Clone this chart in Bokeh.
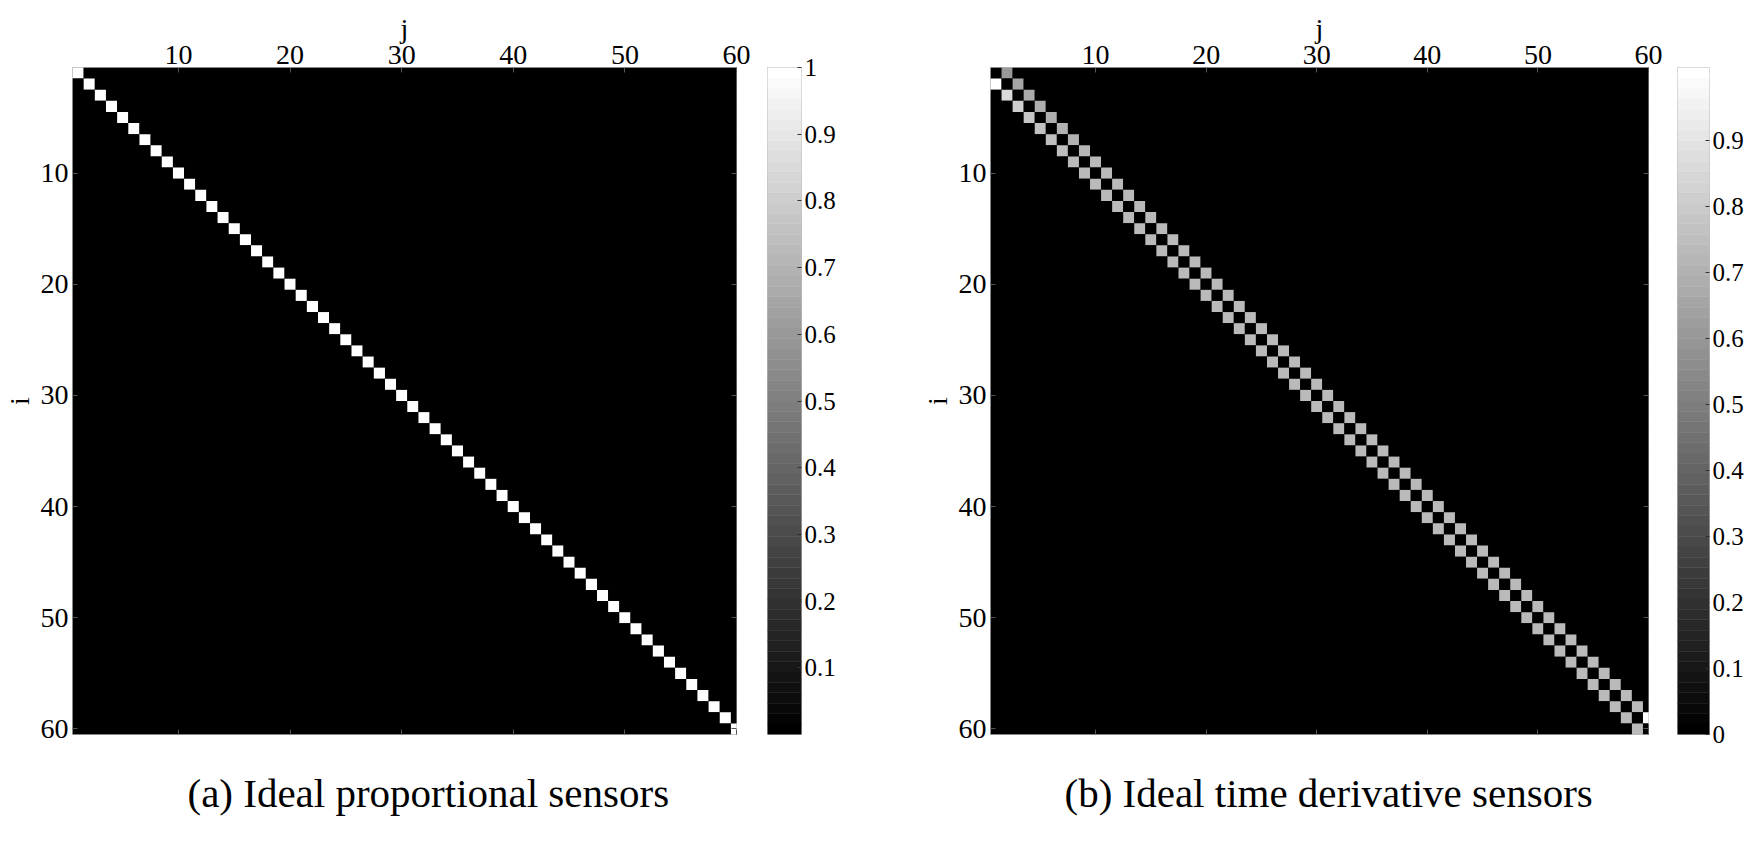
import numpy as np
from bokeh.plotting import figure
from bokeh.models import (ColumnDataSource, LinearColorMapper, FixedTicker, LinearAxis,
                          Range1d, Title, CustomJSTickFormatter)
from bokeh.layouts import row
from bokeh.palettes import gray
from bokeh.embed import file_html
from bokeh.resources import INLINE

# ---------------- data ----------------
N_SENSORS = 60
axis_ticks = [10, 20, 30, 40, 50, 60]
cbar_ticks_a = [0.1, 0.2, 0.3, 0.4, 0.5, 0.6, 0.7, 0.8, 0.9, 1.0]
cbar_ticks_b = [0.0, 0.1, 0.2, 0.3, 0.4, 0.5, 0.6, 0.7, 0.8, 0.9]
cbar_range_a = (0.0, 1.0)
cbar_range_b = (0.0, 1.01)
caption_a = "(a) Ideal proportional sensors"
caption_b = "(b) Ideal time derivative sensors"

# (a) diagonal entries (i, i)
prop_diag = [1.0, 1.0, 1.0, 1.0, 1.0, 1.0, 1.0, 1.0, 1.0, 1.0,
             1.0, 1.0, 1.0, 1.0, 1.0, 1.0, 1.0, 1.0, 1.0, 1.0,
             1.0, 1.0, 1.0, 1.0, 1.0, 1.0, 1.0, 1.0, 1.0, 1.0,
             1.0, 1.0, 1.0, 1.0, 1.0, 1.0, 1.0, 1.0, 1.0, 1.0,
             1.0, 1.0, 1.0, 1.0, 1.0, 1.0, 1.0, 1.0, 1.0, 1.0,
             1.0, 1.0, 1.0, 1.0, 1.0, 1.0, 1.0, 1.0, 1.0, 1.0]

# (b) diagonal entries (i, i)
deriv_diag = [0.0, 0.0, 0.0, 0.0, 0.0, 0.0, 0.0, 0.0, 0.0, 0.0,
              0.0, 0.0, 0.0, 0.0, 0.0, 0.0, 0.0, 0.0, 0.0, 0.0,
              0.0, 0.0, 0.0, 0.0, 0.0, 0.0, 0.0, 0.0, 0.0, 0.0,
              0.0, 0.0, 0.0, 0.0, 0.0, 0.0, 0.0, 0.0, 0.0, 0.0,
              0.0, 0.0, 0.0, 0.0, 0.0, 0.0, 0.0, 0.0, 0.0, 0.0,
              0.0, 0.0, 0.0, 0.0, 0.0, 0.0, 0.0, 0.0, 0.0, 0.0]
# (b) upper neighbour entries (i, i+1), i = 1..59
deriv_upper = [0.60, 0.66, 0.67, 0.68, 0.69, 0.70, 0.71, 0.72, 0.73, 0.73,
               0.74, 0.74, 0.74, 0.74, 0.74, 0.74, 0.74, 0.74, 0.74, 0.74,
               0.74, 0.74, 0.74, 0.74, 0.74, 0.74, 0.74, 0.74, 0.74, 0.74,
               0.74, 0.74, 0.74, 0.74, 0.74, 0.74, 0.74, 0.74, 0.74, 0.74,
               0.74, 0.74, 0.74, 0.74, 0.74, 0.74, 0.74, 0.74, 0.74, 0.74,
               0.74, 0.74, 0.74, 0.74, 0.74, 0.74, 0.74, 0.74, 1.00]
# (b) lower neighbour entries (i+1, i), i = 1..59
deriv_lower = [1.00, 0.86, 0.81, 0.78, 0.76, 0.75, 0.75, 0.74, 0.74, 0.74,
               0.74, 0.74, 0.74, 0.74, 0.74, 0.74, 0.74, 0.74, 0.74, 0.74,
               0.74, 0.74, 0.74, 0.74, 0.74, 0.74, 0.74, 0.74, 0.74, 0.74,
               0.74, 0.74, 0.74, 0.74, 0.74, 0.74, 0.74, 0.74, 0.74, 0.74,
               0.74, 0.74, 0.74, 0.74, 0.74, 0.74, 0.74, 0.74, 0.74, 0.74,
               0.74, 0.74, 0.74, 0.74, 0.74, 0.74, 0.74, 0.74, 0.74]

FONT = "Liberation Serif"
PALETTE = gray(64)
TOP, FRAME_H, BOTTOM = 67, 667, 93
BLANK = CustomJSTickFormatter(code="return '';")


def matrix_source(diag, upper=None, lower=None):
    n = len(diag)
    m = np.zeros((n, n))
    m[np.arange(n), np.arange(n)] = diag
    if upper is not None:
        m[np.arange(n - 1), np.arange(1, n)] = upper
    if lower is not None:
        m[np.arange(1, n), np.arange(n - 1)] = lower
    ii, jj = np.meshgrid(np.arange(1, n + 1), np.arange(1, n + 1), indexing="ij")
    return ColumnDataSource(dict(i=ii.ravel(), j=jj.ravel(), v=m.ravel()))


def style_ticks(ax):
    ax.major_tick_in = 5
    ax.major_tick_out = 0
    ax.major_tick_line_color = "#555555"
    ax.minor_tick_line_color = None
    ax.axis_line_color = None


def heat_panel(src, crange, caption, frame_w, left, right, cap_offset):
    n = N_SENSORS
    p = figure(frame_width=frame_w, frame_height=FRAME_H,
               x_range=Range1d(0.5, n), y_range=Range1d(n + 0.5, 0.5),
               x_axis_location="above", output_backend="svg", toolbar_location=None,
               min_border_left=left, min_border_right=right,
               min_border_top=TOP, min_border_bottom=BOTTOM,
               background_fill_color="black", border_fill_color="white")
    mapper = LinearColorMapper(palette=PALETTE, low=crange[0], high=crange[1])
    p.rect(x="j", y="i", width=1, height=1, source=src,
           fill_color={"field": "v", "transform": mapper}, line_color=None)
    p.grid.visible = False
    p.outline_line_color = "#b4b4b4"
    for ax in (p.xaxis[0], p.yaxis[0]):
        ax.ticker = FixedTicker(ticks=axis_ticks)
        ax.major_label_text_font = FONT
        ax.major_label_text_font_size = "28px"
        ax.major_label_text_color = "black"
        ax.axis_label_text_font = FONT
        ax.axis_label_text_font_size = "28px"
        ax.axis_label_text_font_style = "normal"
        ax.axis_label_text_color = "black"
        style_ticks(ax)
    p.xaxis.axis_label = "j"
    p.yaxis.axis_label = "i"
    p.xaxis.major_label_standoff = 4
    p.xaxis.axis_label_standoff = -1
    p.yaxis.major_label_standoff = 4
    p.yaxis.axis_label_standoff = 3

    # mirrored tick marks on the bottom and right edges (no labels)
    bax = LinearAxis(ticker=FixedTicker(ticks=axis_ticks), formatter=BLANK,
                     major_label_text_font_size="1px", major_label_standoff=0,
                     axis_label=" ", axis_label_text_font_size="26px",
                     axis_label_standoff=0)
    style_ticks(bax)
    p.add_layout(bax, "below")
    rax = LinearAxis(ticker=FixedTicker(ticks=axis_ticks), formatter=BLANK,
                     major_label_text_font_size="1px", major_label_standoff=0)
    style_ticks(rax)
    p.add_layout(rax, "right")

    p.add_layout(Title(text=caption, text_font=FONT, text_font_size="41px",
                       text_font_style="normal", text_color="black",
                       align="left", offset=cap_offset, standoff=0), "below")
    return p


def cbar_panel(crange, cticks, frame_w, right):
    low, high = crange
    p = figure(frame_width=frame_w, frame_height=FRAME_H,
               x_range=Range1d(0, 1), y_range=Range1d(low, high),
               x_axis_location=None, y_axis_location="right",
               output_backend="svg", toolbar_location=None,
               min_border_left=0, min_border_right=right,
               min_border_top=TOP, min_border_bottom=BOTTOM,
               background_fill_color="white", border_fill_color="white")
    edges = np.linspace(low, high, len(PALETTE) + 1)
    p.quad(left=0, right=1, bottom=edges[:-1], top=edges[1:],
           fill_color=PALETTE, line_color=PALETTE, line_width=0.5)
    p.grid.visible = False
    p.outline_line_color = "#c0c0c0"
    ax = p.yaxis[0]
    ax.ticker = FixedTicker(ticks=cticks)
    ax.formatter = CustomJSTickFormatter(code=r"return tick.toFixed(1).replace(/\.0$/, '');")
    ax.major_label_text_font = FONT
    ax.major_label_text_font_size = "25px"
    ax.major_label_text_color = "black"
    ax.major_label_standoff = 3
    ax.major_tick_in = 4
    ax.major_tick_out = 0
    ax.major_tick_line_color = "#333333"
    ax.minor_tick_line_color = None
    ax.axis_line_color = None
    return p


src_a = matrix_source(prop_diag)
src_b = matrix_source(deriv_diag, deriv_upper, deriv_lower)

heat_a = heat_panel(src_a, cbar_range_a, caption_a, frame_w=664, left=66, right=31, cap_offset=115)
bar_a = cbar_panel(cbar_range_a, cbar_ticks_a, frame_w=34, right=117)
heat_b = heat_panel(src_b, cbar_range_b, caption_b, frame_w=658, left=67, right=29, cap_offset=74)
bar_b = cbar_panel(cbar_range_b, cbar_ticks_b, frame_w=32, right=36)

layout = row(heat_a, bar_a, heat_b, bar_b)
open("out.html", "w").write(file_html(layout, INLINE))
